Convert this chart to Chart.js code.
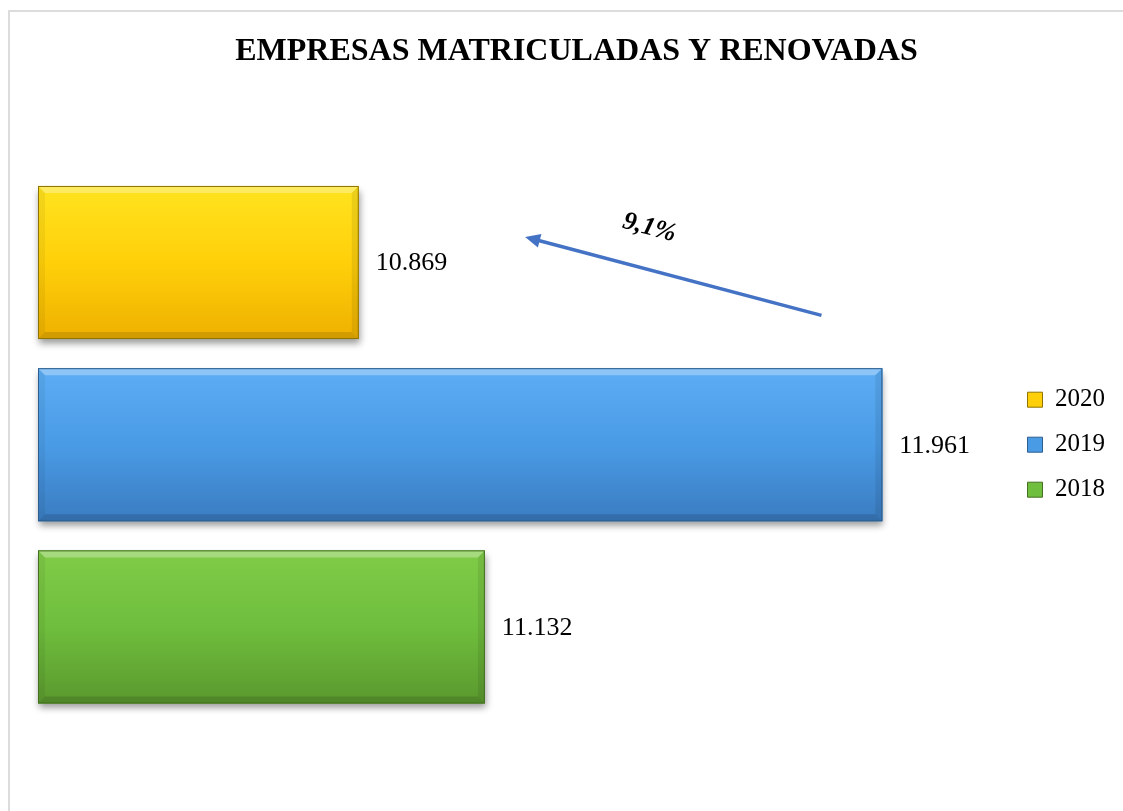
<!DOCTYPE html>
<html lang="es">
<head>
<meta charset="utf-8">
<title>Empresas matriculadas y renovadas</title>
<script src="https://cdn.jsdelivr.net/npm/chart.js@4.4.1/dist/chart.umd.min.js"></script>
<style>
  html, body { margin: 0; padding: 0; background: #fff; }
  #wrap { position: relative; width: 1123px; height: 811px; overflow: hidden; }
  #frame {
    position: absolute; left: 8px; top: 10px; width: 1200px; height: 900px;
    border-top: 2px solid #dcdcdc; border-left: 2px solid #dcdcdc;
  }
  canvas { position: absolute; left: 0; top: 0; }
</style>
</head>
<body>
<div id="wrap">
  <div id="frame"></div>
  <canvas id="chart" width="1123" height="811"></canvas>
</div>
<script>
// datos
const years = ["2020", "2019", "2018"];
const values = [10869, 11961, 11132];
const variationText = "9,1%";
const axisMin = 10200;
const axisMax = 12222;

// colores de cada barra (arriba / medio / abajo / borde)
const topColors = ["#ffe31f", "#5cadf4", "#80cc48"];
const midColors = ["#ffd00a", "#4a9be6", "#6fbe3d"];
const bottomColors = ["#eeb000", "#3a7cc0", "#5a982e"];
const edgeColors = ["#8f7300", "#2e5e8e", "#466f22"];

// flecha de variacion (en unidades de los ejes: valor, indice de categoria)
const arrowTail = [11834, 0.29];
const arrowHead = [11216, -0.14];
const arrowLabelAt = [11475, -0.19];

function formatNumber(n) {
  return String(n).replace(/\B(?=(\d{3})+(?!\d))/g, ".");
}

const datasets = years.map((year, i) => ({
  label: year,
  data: years.map((_, j) => (i === j ? values[i] : null)),
  base: axisMin,
  backgroundColor: midColors[i],
  borderColor: edgeColors[i],
  borderWidth: 1,
  grouped: false,
  categoryPercentage: 1,
  barPercentage: 0.84,
}));

function poly(ctx, pts, color) {
  ctx.beginPath();
  ctx.moveTo(pts[0][0], pts[0][1]);
  for (let k = 1; k < pts.length; k++) ctx.lineTo(pts[k][0], pts[k][1]);
  ctx.closePath();
  ctx.fillStyle = color;
  ctx.fill();
}

// sombra, efecto bisel y etiquetas de valor
const bevelBars = {
  id: "bevelBars",
  afterDatasetsDraw(chart) {
    const ctx = chart.ctx;
    chart.data.datasets.forEach((ds, i) => {
      const meta = chart.getDatasetMeta(i);
      meta.data.forEach((bar, j) => {
        if (ds.data[j] == null) return;
        const { x, y, base, height } = bar.getProps(["x", "y", "base", "height"], true);
        const left = Math.min(base, x);
        const right = Math.max(base, x);
        const top = y - height / 2;
        const bottom = y + height / 2;
        const b = 7;
        ctx.save();
        ctx.shadowColor = "rgba(0,0,0,0.4)";
        ctx.shadowBlur = 7;
        ctx.shadowOffsetX = 1;
        ctx.shadowOffsetY = 5;
        ctx.fillStyle = midColors[i];
        ctx.fillRect(left, top, right - left, bottom - top);
        ctx.restore();

        ctx.save();
        const g = ctx.createLinearGradient(0, top, 0, bottom);
        g.addColorStop(0, topColors[i]);
        g.addColorStop(0.5, midColors[i]);
        g.addColorStop(1, bottomColors[i]);
        ctx.fillStyle = g;
        ctx.fillRect(left, top, right - left, bottom - top);
        poly(ctx, [[left, top], [right, top], [right - b, top + b], [left + b, top + b]], "rgba(255,255,255,0.3)");
        poly(ctx, [[left, bottom], [right, bottom], [right - b, bottom - b], [left + b, bottom - b]], "rgba(0,0,0,0.12)");
        poly(ctx, [[left, top], [left + b, top + b], [left + b, bottom - b], [left, bottom]], "rgba(0,0,0,0.05)");
        poly(ctx, [[right, top], [right - b, top + b], [right - b, bottom - b], [right, bottom]], "rgba(0,0,0,0.08)");
        ctx.strokeStyle = edgeColors[i];
        ctx.lineWidth = 1;
        ctx.strokeRect(left + 0.5, top + 0.5, right - left - 1, bottom - top - 1);

        ctx.fillStyle = "#000";
        ctx.font = "26px 'Liberation Serif', 'Times New Roman', serif";
        ctx.textAlign = "left";
        ctx.textBaseline = "middle";
        ctx.fillText(formatNumber(ds.data[j]), right + 17, y + 1);
        ctx.restore();
      });
    });
  },
};

// flecha con el porcentaje
const variationArrow = {
  id: "variationArrow",
  afterDraw(chart) {
    const ctx = chart.ctx;
    const xs = chart.scales.x;
    const ys = chart.scales.y;
    const x1 = xs.getPixelForValue(arrowTail[0]);
    const y1 = ys.getPixelForValue(arrowTail[1]);
    const x2 = xs.getPixelForValue(arrowHead[0]);
    const y2 = ys.getPixelForValue(arrowHead[1]);
    const ang = Math.atan2(y2 - y1, x2 - x1);
    const headLen = 15;
    const headW = 7;
    ctx.save();
    ctx.strokeStyle = "#4472c4";
    ctx.fillStyle = "#4472c4";
    ctx.lineWidth = 3.5;
    ctx.beginPath();
    ctx.moveTo(x1, y1);
    ctx.lineTo(x2 - Math.cos(ang) * headLen * 0.8, y2 - Math.sin(ang) * headLen * 0.8);
    ctx.stroke();
    ctx.translate(x2, y2);
    ctx.rotate(ang);
    ctx.beginPath();
    ctx.moveTo(0, 0);
    ctx.lineTo(-headLen, -headW);
    ctx.lineTo(-headLen, headW);
    ctx.closePath();
    ctx.fill();
    ctx.restore();

    ctx.save();
    ctx.translate(xs.getPixelForValue(arrowLabelAt[0]), ys.getPixelForValue(arrowLabelAt[1]));
    ctx.rotate(ang + Math.PI);
    ctx.font = "italic bold 26px 'Liberation Serif', 'Times New Roman', serif";
    ctx.fillStyle = "#000";
    ctx.textAlign = "center";
    ctx.textBaseline = "middle";
    ctx.fillText(variationText, 0, 0);
    ctx.restore();
  },
};

new Chart(document.getElementById("chart"), {
  type: "bar",
  data: { labels: years, datasets: datasets },
  options: {
    indexAxis: "y",
    responsive: false,
    animation: false,
    layout: { padding: { top: 10, left: 38, right: 8, bottom: 93 } },
    scales: {
      x: { display: false, beginAtZero: false, min: axisMin, max: axisMax },
      y: { display: false },
    },
    plugins: {
      title: {
        display: true,
        text: "EMPRESAS MATRICULADAS Y RENOVADAS",
        color: "#000",
        font: { family: "'Liberation Serif', 'Times New Roman', serif", size: 32, weight: "bold" },
        padding: { top: 23, bottom: 100 },
      },
      legend: {
        position: "right",
        fullSize: false,
        labels: {
          color: "#000",
          font: { family: "'Liberation Serif', 'Times New Roman', serif", size: 25 },
          boxWidth: 15,
          boxHeight: 15,
          padding: 20,
        },
      },
      tooltip: { enabled: false },
    },
  },
  plugins: [bevelBars, variationArrow],
});
</script>
</body>
</html>
